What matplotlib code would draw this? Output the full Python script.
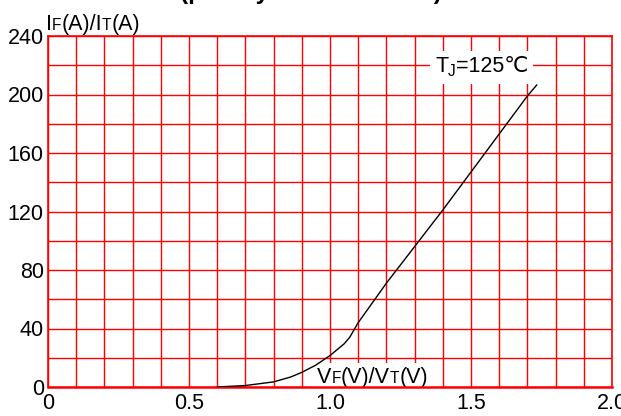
"""Forward characteristic: IF/IT vs VF/VT at Tj = 125 C"""

import numpy as np
import matplotlib
matplotlib.use("Agg")
import matplotlib.pyplot as plt
from matplotlib.patches import Rectangle
from matplotlib.transforms import Bbox, IdentityTransform

plt.rcParams['font.family'] = ['Liberation Sans', 'DejaVu Sans']

# curve
vf = [0.60, 0.70, 0.80, 0.86, 0.90, 0.95, 1.00, 1.05, 1.07, 1.10,
      1.20, 1.30, 1.40, 1.50, 1.60, 1.70, 1.733]
i_f = [0.0, 1.0, 3.5, 6.8, 10.0, 15.0, 21.5, 29.5, 34.0, 44.0,
       71.0, 96.0, 121.0, 147.0, 173.0, 199.0, 206.5]

x_ticks = [0, 0.5, 1.0, 1.5, 2.0]
x_labels = ['0', '0.5', '1.0', '1.5', '2.0']
y_ticks = [0, 40, 80, 120, 160, 200, 240]

FS = 15.5
SMALL = FS * 0.72
RED = '#ff0000'

fig = plt.figure(figsize=(6.21, 4.16), dpi=100)
ax = fig.add_axes([48 / 621, 29 / 416, 564 / 621, 351 / 416])

ax.set_xlim(0, 2.0)
ax.set_ylim(0, 240)
ax.set_xticks(x_ticks)
ax.set_xticklabels(x_labels, fontsize=FS)
ax.set_yticks(y_ticks)
ax.set_yticklabels([str(v) for v in y_ticks], fontsize=FS)
ax.set_xticks(np.arange(0, 2.01, 0.1), minor=True)
ax.set_yticks(np.arange(0, 241, 20), minor=True)
ax.tick_params(which='both', length=0)
ax.tick_params(axis='x', pad=4)
ax.tick_params(axis='y', pad=3)
ax.grid(which='both', color=RED, lw=1.0)
ax.set_axisbelow(True)
for s in ax.spines.values():
    s.set_color(RED)
    s.set_linewidth(1.2)
ax.spines['bottom'].set_linewidth(1.8)

ax.plot(vf, i_f, color='black', lw=1.0, zorder=3)


def pieced_text(x_px, y_px, parts, pad=None):
    """draw text made of pieces (text, size, drop in px), one after the other;
    with pad, a white patch goes behind the whole thing"""
    kw = dict(va='baseline', ha='left', transform=IdentityTransform(),
              zorder=2.2, clip_on=False)
    fig.canvas.draw()
    r = fig.canvas.get_renderer()
    boxes = []
    for txt, size, drop in parts:
        t = ax.text(x_px, y_px - drop, txt, fontsize=size, **kw)
        bb = t.get_window_extent(r)
        boxes.append(bb)
        x_px = bb.x1
    if pad is not None:
        bb = Bbox.union(boxes)
        ax.add_patch(Rectangle((bb.x0 - pad, bb.y0 - pad),
                               bb.width + 2 * pad, bb.height + 2 * pad,
                               transform=IdentityTransform(), facecolor='white',
                               edgecolor='none', zorder=2.1, clip_on=False))


pieced_text(46, 416 - 30,
            [('I', FS, 0), ('F', SMALL, 0), ('(A)/I', FS, 0),
             ('T', SMALL, 0), ('(A)', FS, 0)])

pieced_text(317, 416 - 383,
            [('V', FS, 0), ('F', SMALL, 0), ('(V)/V', FS, 0),
             ('T', SMALL, 0), ('(V)', FS, 0)], pad=4)

pieced_text(435, 416 - 72,
            [('T', FS, 0), ('J', SMALL, 4), ('=125℃', FS, 0)], pad=5)

# title sits almost entirely above the picture
fig.text(0.5, 1 + 1 / 416, '(per thyristor or diode)', fontsize=17.5,
         fontweight='bold', ha='center', va='baseline')

fig.savefig('out.png', dpi=100)
